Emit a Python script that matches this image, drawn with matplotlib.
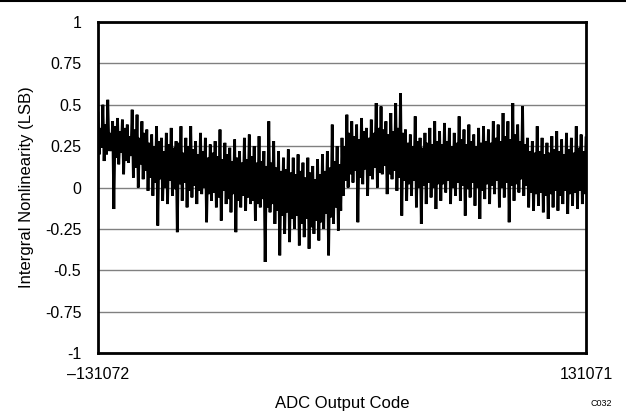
import numpy as np
import matplotlib
matplotlib.use('Agg')
import matplotlib.pyplot as plt
from matplotlib.lines import Line2D

plt.rcParams['font.family'] = ['Liberation Sans', 'DejaVu Sans']

# INL values (LSB), left to right
inl = [
    0.45, 0.20, 0.36, 0.24, 0.50, 0.16, 0.38, 0.20, 0.53, 0.22, 0.33, 0.22, 0.40, -0.13, 0.37, 0.18, 0.42, 0.14, 0.34, 0.21,
    0.41, 0.08, 0.36, 0.16, 0.38, 0.15, 0.31, 0.19, 0.47, 0.06, 0.35, 0.12, 0.44, 0.00, 0.30, 0.14, 0.40, 0.05, 0.33, 0.10,
    0.35, -0.02, 0.27, 0.06, 0.32, -0.05, 0.25, 0.03, 0.37, -0.23, 0.28, 0.05, 0.30, -0.08, 0.22, 0.00, 0.33, -0.10, 0.26, 0.04,
    0.36, -0.05, 0.24, -0.01, 0.28, -0.27, 0.27, 0.02, 0.37, -0.08, 0.21, 0.03, 0.30, -0.12, 0.25, -0.02, 0.37, -0.06, 0.23, 0.01,
    0.28, -0.10, 0.20, -0.02, 0.33, -0.04, 0.22, 0.00, 0.30, -0.21, 0.18, -0.04, 0.26, -0.08, 0.21, -0.03, 0.28, -0.12, 0.19, -0.06,
    0.35, -0.20, 0.17, -0.02, 0.27, -0.10, 0.20, -0.07, 0.24, -0.15, 0.16, -0.04, 0.29, -0.27, 0.18, -0.08, 0.22, -0.12, 0.15, -0.05,
    0.30, -0.14, 0.17, -0.06, 0.32, -0.10, 0.19, -0.08, 0.25, -0.20, 0.15, -0.10, 0.31, -0.12, 0.16, -0.07, 0.22, -0.45, 0.13, -0.12,
    0.40, -0.15, 0.15, -0.10, 0.28, -0.22, 0.12, -0.14, 0.22, -0.41, 0.10, -0.17, 0.18, -0.28, 0.11, -0.15, 0.23, -0.33, 0.09, -0.19,
    0.18, -0.25, 0.08, -0.17, 0.20, -0.35, 0.10, -0.22, 0.15, -0.30, 0.06, -0.19, 0.18, -0.37, 0.09, -0.24, 0.13, -0.28, 0.05, -0.20,
    0.17, -0.32, 0.08, -0.21, 0.20, -0.25, 0.10, -0.16, 0.22, -0.41, 0.12, -0.18, 0.38, -0.22, 0.16, -0.12, 0.25, -0.26, 0.14, -0.14,
    0.30, -0.05, 0.25, 0.04, 0.44, 0.00, 0.33, 0.08, 0.40, 0.03, 0.31, 0.10, 0.38, -0.21, 0.29, 0.06, 0.42, 0.02, 0.34, 0.11,
    0.36, -0.05, 0.30, 0.07, 0.41, 0.05, 0.33, 0.12, 0.51, 0.00, 0.36, 0.09, 0.49, 0.08, 0.35, 0.13, 0.40, -0.04, 0.32, 0.08,
    0.45, 0.05, 0.34, 0.10, 0.51, -0.02, 0.36, 0.06, 0.57, -0.17, 0.33, 0.04, 0.35, -0.08, 0.27, 0.02, 0.32, -0.05, 0.25, 0.04,
    0.43, -0.12, 0.28, 0.00, 0.30, -0.22, 0.24, 0.01, 0.33, -0.10, 0.27, 0.03, 0.36, -0.06, 0.26, 0.00, 0.40, -0.13, 0.28, 0.02,
    0.34, -0.08, 0.26, 0.02, 0.39, -0.03, 0.28, 0.04, 0.36, -0.10, 0.25, 0.00, 0.33, -0.05, 0.27, 0.03, 0.43, -0.08, 0.29, 0.01,
    0.35, -0.17, 0.26, -0.01, 0.38, -0.06, 0.28, 0.03, 0.32, -0.11, 0.25, 0.00, 0.36, -0.19, 0.27, -0.02, 0.37, -0.07, 0.28, 0.02,
    0.35, -0.10, 0.27, 0.01, 0.40, -0.04, 0.30, 0.04, 0.38, -0.12, 0.28, 0.00, 0.45, -0.06, 0.31, 0.03, 0.40, -0.21, 0.29, 0.01,
    0.51, -0.08, 0.32, 0.02, 0.38, -0.03, 0.28, 0.05, 0.49, -0.05, 0.26, 0.01, 0.30, -0.12, 0.22, -0.03, 0.28, -0.14, 0.21, -0.04,
    0.37, -0.11, 0.22, -0.03, 0.30, -0.15, 0.20, -0.05, 0.27, -0.19, 0.21, -0.04, 0.31, -0.12, 0.23, -0.02, 0.34, -0.14, 0.22, -0.05,
    0.29, -0.10, 0.20, -0.02, 0.33, -0.16, 0.23, -0.04, 0.30, -0.11, 0.21, -0.03, 0.37, -0.13, 0.24, -0.02, 0.32, -0.10, 0.22, -0.04,
    0.30,
]
code_min = -131072
code_max = 131071
y_ticks = [-1, -0.75, -0.5, -0.25, 0, 0.25, 0.5, 0.75, 1]
y_tick_labels = ['-1', '-0.75', '-0.5', '-0.25', '0', '0.25', '0.5', '0.75', '1']

codes = np.linspace(code_min, code_max, len(inl))

fig = plt.figure(figsize=(6.26, 4.16), dpi=100)
ax = fig.add_axes([98 / 626, 63 / 416, 488 / 626, 331 / 416])

ax.plot(codes, inl, color='black', linewidth=2.0, solid_joinstyle='miter')

ax.set_xlim(code_min, code_max)
ax.set_ylim(-1, 1)
ax.set_yticks(y_ticks)
ax.set_yticklabels(y_tick_labels)
ax.set_xticks([code_min, code_max])
ax.set_xticklabels(['\u2013131072', '131071'])
ax.tick_params(axis='both', length=0, labelsize=11.5)
ax.tick_params(axis='y', pad=12)
ax.tick_params(axis='x', pad=10)

ax.grid(axis='y', color='#808080', linewidth=1.0)
ax.set_axisbelow(True)
for s in ax.spines.values():
    s.set_linewidth(2.0)
    s.set_color('black')

ax.set_xlabel('ADC Output Code', fontsize=12, labelpad=10)
ax.set_ylabel('Intergral Nonlinearity (LSB)', fontsize=12, labelpad=8)

fig.text(601 / 626, 1 - 404 / 416, 'C032', fontsize=6.5, ha='center', va='center')
fig.add_artist(Line2D([0, 1], [0.998, 0.998], color='black', linewidth=1.5,
                      transform=fig.transFigure))

fig.savefig('out.png', dpi=100)
plt.close()
